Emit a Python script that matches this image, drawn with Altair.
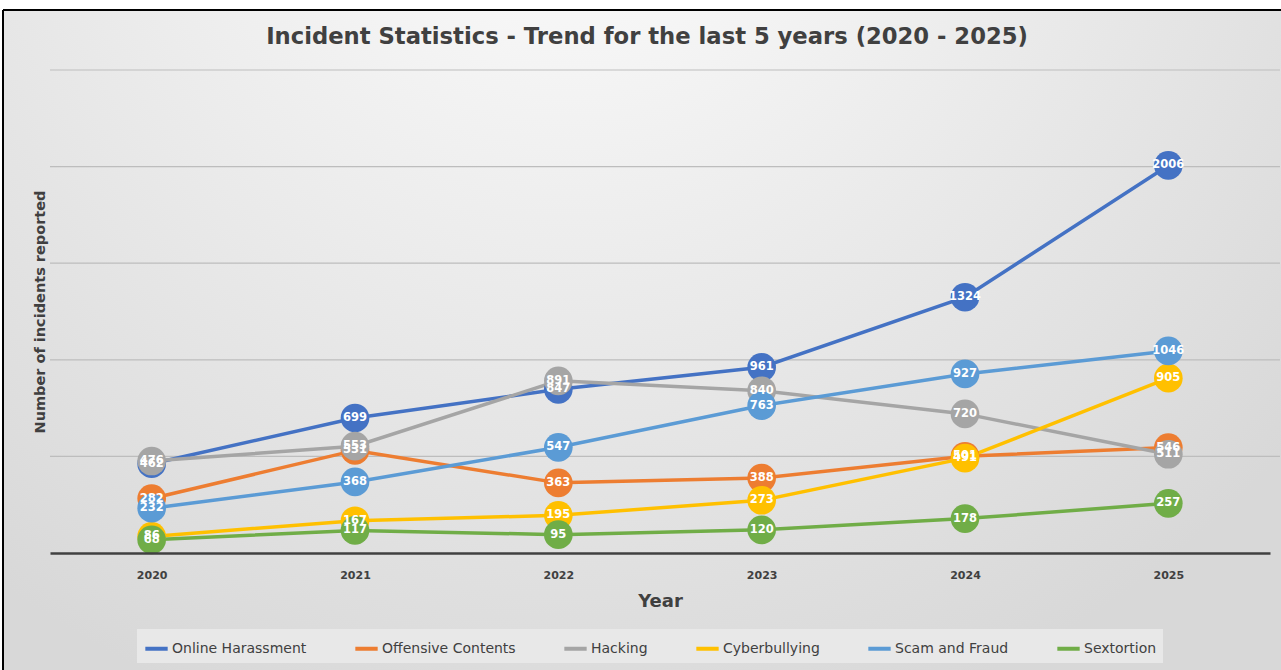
import altair as alt
import pandas as pd

years = ["2020", "2021", "2022", "2023", "2024", "2025"]
series = ["Online Harassment", "Offensive Contents", "Hacking",
          "Cyberbullying", "Scam and Fraud", "Sextortion"]
colors = ["#4472C4", "#ED7D31", "#A5A5A5", "#FFC000", "#5B9BD5", "#70AD47"]

online_harassment = [462, 699, 847, 961, 1324, 2006]
offensive_contents = [282, 531, 363, 388, 501, 546]
hacking = [476, 553, 891, 840, 720, 511]
cyberbullying = [86, 167, 195, 273, 491, 905]
scam_and_fraud = [232, 368, 547, 763, 927, 1046]
sextortion = [68, 117, 95, 120, 178, 257]

grid_values = [500, 1000, 1500, 2000, 2500]

chart_title = "Incident Statistics - Trend for the last 5 years (2020 - 2025)"

values = [online_harassment, offensive_contents, hacking,
          cyberbullying, scam_and_fraud, sextortion]

rows = []
for i, (name, vals) in enumerate(zip(series, values)):
    for y, v in zip(years, vals):
        rows.append({"Year": y, "Category": name, "Count": v, "idx": i})
df = pd.DataFrame(rows)

FONT = "DejaVu Sans"
TXT = "#404040"

# framed panel with a soft radial shading behind the plot
one = pd.DataFrame({"k": [0]})
panel = alt.Chart(one).mark_rect(
    fill=alt.RadialGradient(
        gradient="radial",
        x1=0.44, y1=0.08, r1=0.0,
        x2=0.44, y2=0.08, r2=0.75,
        stops=[
            alt.GradientStop(offset=0.0, color="#ffffff"),
            alt.GradientStop(offset=0.35, color="#f1f1f1"),
            alt.GradientStop(offset=1.0, color="#d8d8d8"),
        ],
    ),
).encode(
    x=alt.value(-47), x2=alt.value(1240),
    y=alt.value(-60), y2=alt.value(610),
)
frame_top = alt.Chart(one).mark_rule(
    color="#000000", strokeWidth=2
).encode(x=alt.value(-47), x2=alt.value(1240), y=alt.value(-60))
frame_left = alt.Chart(one).mark_rule(
    color="#000000", strokeWidth=2
).encode(x=alt.value(-47), y=alt.value(-60), y2=alt.value(610))

title_mark = alt.Chart(pd.DataFrame({"t": [chart_title]})).mark_text(
    font=FONT, fontSize=22.7, fontWeight="bold", color=TXT,
    align="center", baseline="middle",
).encode(x=alt.value(597), y=alt.value(-33), text="t:N")

y_scale = alt.Scale(domain=[0, 2500], nice=False)
y_axis = alt.Axis(
    title="Number of incidents reported",
    labels=False, ticks=False, domain=False, grid=False, zindex=1,
    titleFont=FONT, titleFontWeight="bold", titleFontSize=14.5,
    titleColor=TXT, titlePadding=3,
)

# horizontal gridlines drawn above the panel but below the series
grid = alt.Chart(pd.DataFrame({"g": grid_values})).mark_rule(
    color="#bdbdbd", strokeWidth=1.2
).encode(
    y=alt.Y("g:Q", scale=y_scale, axis=y_axis),
    x=alt.value(0), x2=alt.value(1230),
)

x_enc = alt.X(
    "Year:O",
    scale=alt.Scale(domain=years, padding=0.5),
    axis=alt.Axis(
        title="Year", labelAngle=0, ticks=False, grid=False, zindex=1,
        labelFont=FONT, labelFontWeight="bold", labelFontSize=11,
        labelColor=TXT, labelPadding=16,
        titleFont=FONT, titleFontWeight="bold", titleFontSize=18,
        titleColor=TXT, titlePadding=12,
        domainColor="#404040", domainWidth=2.5,
    ),
)
y_enc = alt.Y("Count:Q", scale=y_scale, axis=y_axis)
color_scale = alt.Scale(domain=series, range=colors)

base = alt.Chart(df)

lines = base.mark_line(strokeWidth=3.5).encode(
    x=x_enc, y=y_enc,
    color=alt.Color(
        "Category:N", scale=color_scale, sort=series,
        legend=alt.Legend(
            title=None, orient="none", direction="horizontal",
            legendX=87, legendY=559,
            fillColor="#e8e8e8", padding=6,
            symbolType="stroke", symbolStrokeWidth=4, symbolSize=500,
            labelFont=FONT, labelFontSize=14, labelColor=TXT,
            columnPadding=40, labelOffset=2,
        ),
    ),
    detail="Category:N",
    order="idx:Q",
)

points = base.mark_circle(size=820, opacity=1).encode(
    x=x_enc, y=y_enc,
    color=alt.Color("Category:N", scale=color_scale, legend=None),
    order="idx:Q",
)

labels = base.mark_text(
    color="white", font=FONT, fontWeight="bold", fontSize=11.5,
    align="center", baseline="middle",
).encode(
    x=x_enc, y=y_enc, text="Count:Q", order="idx:Q",
)

chart = alt.layer(
    panel, frame_top, frame_left, title_mark, grid, lines, points, labels
).properties(
    width=1220,
    height=483,
    autosize=alt.AutoSizeParams(type="none"),
    padding={"left": 50, "top": 70, "right": 11, "bottom": 117},
    background="#ffffff",
).configure_view(stroke=None)

chart.save("out.html", embed_options={"renderer": "svg", "actions": False})
